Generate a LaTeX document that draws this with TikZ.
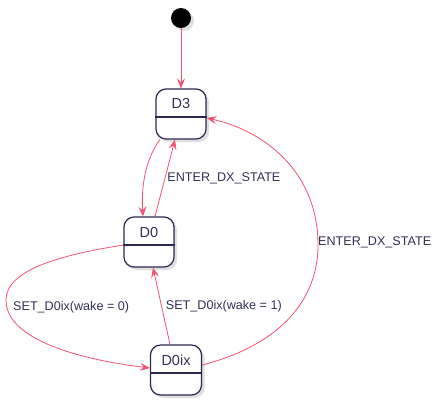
\documentclass[tikz,border=0pt]{standalone}
\usepackage{fontspec}
\setmainfont{Liberation Sans}
\usepackage{tikz}
\usepackage{xcolor}
\usetikzlibrary{arrows.meta}
\usetikzlibrary{shadows}
\usetikzlibrary{positioning}

\definecolor{edgecol}{RGB}{240,82,112}
\definecolor{boxcol}{RGB}{40,40,82}
\definecolor{txtcol}{RGB}{48,48,88}

\tikzset{
  state/.style={draw=boxcol, line width=1.2pt, fill=white, rounded corners=10pt,
    minimum width=50pt, minimum height=50pt, inner sep=0pt,
    drop shadow={opacity=0.25, shadow xshift=3pt, shadow yshift=-3pt}},
  statename/.style={text=txtcol, font=\fontsize{14.5}{16}\selectfont, inner sep=0pt},
  divider/.style={draw=boxcol, line width=1.1pt},
  trans/.style={draw=edgecol, line width=0.8pt, ->},
  edgelabel/.style={text=txtcol, font=\fontsize{12.6}{14}\selectfont, inner sep=0pt}
}

\begin{document}
\begin{tikzpicture}[x=1pt, y=-1pt, >={Stealth[length=10pt, width=8pt, inset=4pt]}]
\useasboundingbox (0,0) rectangle (443,405);

%states
\node[circle, fill=black, minimum size=20pt, inner sep=0pt,
  drop shadow={opacity=0.25, shadow xshift=3pt, shadow yshift=-3pt}] (init) at (181,18) {};

\node[state] (D3) at (181,114) {};
\node[statename] (D3name) at (181,104) {D3};
\draw[divider] ([yshift=-3pt]D3.west) -- ([yshift=-3pt]D3.east);

\node[state] (D0) at (149,242) {};
\node[statename] (D0name) at (149,232) {D0};
\draw[divider] ([yshift=-3pt]D0.west) -- ([yshift=-3pt]D0.east);

\node[state, minimum width=51pt] (D0ix) at (176,370) {};
\node[statename] (D0ixname) at (176,360) {D0ix};
\draw[divider] ([yshift=-3pt]D0ix.west) -- ([yshift=-3pt]D0ix.east);

%transitions
\draw[trans] (init) -- (D3);

\draw[trans] ([xshift=-21pt]D3.south) .. controls (146,158) and (141,185) .. ([xshift=-6pt]D0.north);

\draw[trans] ([xshift=6pt]D0.north) -- node[edgelabel, anchor=west, xshift=2pt] (lblA) {ENTER\_DX\_STATE} ([xshift=-6pt]D3.south);

\draw[trans] ([yshift=-3pt]D0.west) .. controls (60,255) and (6,270) .. (6,300)
  .. controls (6,345) and (100,362) .. ([yshift=2pt]D0ix.west);
\node[edgelabel, anchor=west] (lblB) at (13,307) {SET\_D0ix(wake = 0)};

\draw[trans] ([xshift=-6pt]D0ix.north) -- node[edgelabel, anchor=west, xshift=4pt] (lblC) {SET\_D0ix(wake = 1)} ([xshift=4pt]D0.south);

\draw[trans] ([yshift=5pt]D0ix.east) .. controls (280,345) and (318,300) .. (318,245)
  .. controls (318,170) and (262,130) .. ([yshift=-4pt]D3.east);
\node[edgelabel, anchor=west] (lblD) at (318,242) {ENTER\_DX\_STATE};
\end{tikzpicture}
\end{document}
